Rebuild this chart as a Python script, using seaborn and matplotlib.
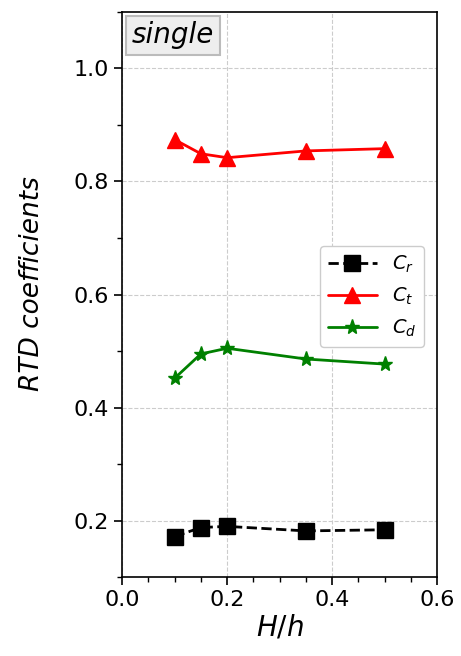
import numpy as np
import pandas as pd
import matplotlib
matplotlib.use("Agg")
import matplotlib.pyplot as plt
import seaborn as sns
from matplotlib.ticker import MultipleLocator

# -------------------------
# Data
# -------------------------
h_ratio = [0.10, 0.15, 0.20, 0.35, 0.50]
c_r = [0.172, 0.188, 0.190, 0.182, 0.184]
c_t = [0.874, 0.849, 0.842, 0.854, 0.858]
c_d = [0.452, 0.495, 0.505, 0.486, 0.477]

df = pd.DataFrame({
    "H/h": h_ratio * 3,
    "value": c_r + c_t + c_d,
    "coef": ["$C_r$"] * 5 + ["$C_t$"] * 5 + ["$C_d$"] * 5,
})

sns.set_style("ticks")
plt.rcParams['font.family'] = ['DejaVu Sans']
plt.rcParams['text.color'] = 'black'
plt.rcParams['axes.labelcolor'] = 'black'
plt.rcParams['xtick.color'] = 'black'
plt.rcParams['ytick.color'] = 'black'

fig, ax = plt.subplots(figsize=(4.61, 6.56), dpi=100)

styles = {
    "$C_r$": dict(color="black", marker="s", linestyle="--", markersize=12),
    "$C_t$": dict(color="red", marker="^", linestyle="-", markersize=12),
    "$C_d$": dict(color="green", marker="*", linestyle="-", markersize=11),
}
for name, st in styles.items():
    sub = df[df["coef"] == name]
    sns.lineplot(data=sub, x="H/h", y="value", ax=ax, label=name,
                 linewidth=2, markeredgewidth=1, markeredgecolor=st["color"], **st)

ax.set_xlim(0.0, 0.6)
ax.set_ylim(0.1, 1.1)
ax.xaxis.set_major_locator(MultipleLocator(0.2))
ax.xaxis.set_minor_locator(MultipleLocator(0.05))
ax.yaxis.set_major_locator(MultipleLocator(0.2))
ax.yaxis.set_minor_locator(MultipleLocator(0.1))
ax.tick_params(axis="both", which="major", labelsize=16, length=6, width=1.2)
ax.tick_params(axis="both", which="minor", length=3.5, width=1)
ax.grid(True, which="major", linestyle="--", color="#cccccc", linewidth=0.8)

ax.set_xlabel("$H/h$", fontsize=20, labelpad=2)
ax.set_ylabel("RTD coefficients", fontsize=19, style="italic")
ax.yaxis.set_label_coords(-0.245, 0.52)

for s in ax.spines.values():
    s.set_linewidth(1.2)
    s.set_color("black")

ax.text(0.03, 0.983, "single", transform=ax.transAxes, fontsize=20,
        style="italic", va="top", ha="left",
        bbox=dict(facecolor="#eeeeee", edgecolor="#bbbbbb", boxstyle="square,pad=0.2", linewidth=1.5))

ax.legend(loc="center right", bbox_to_anchor=(0.99, 0.497), fontsize=14,
          handlelength=2.5, labelspacing=0.55, framealpha=1)

plt.subplots_adjust(left=0.265, right=0.948, top=0.982, bottom=0.12)
plt.savefig("out.png", dpi=100)
